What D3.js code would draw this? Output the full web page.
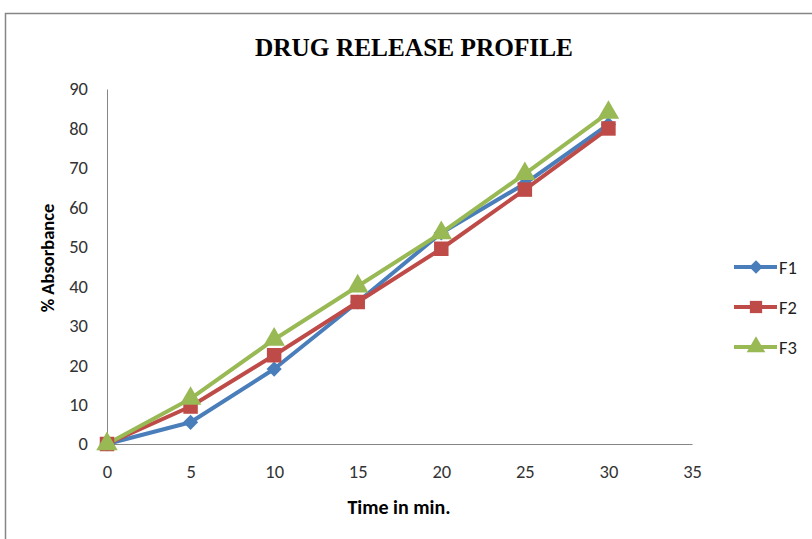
<!DOCTYPE html>
<html>
<head>
<meta charset="utf-8">
<script src="https://cdn.jsdelivr.net/npm/d3@7"></script>
<style>
  body { margin: 0; background: #fff; }
</style>
</head>
<body>
<svg id="drawing_region"></svg>
<script>
// data
const times = [0, 5, 10, 15, 20, 25, 30];
const f1 = [0, 5.5, 19, 36, 53.5, 66, 81];
const f2 = [0, 9.5, 22.5, 36, 49.5, 64.5, 80];
const f3 = [0, 11.5, 26.5, 40, 53.5, 68.5, 84];
const seriesNames = ["F1", "F2", "F3"];
const xTicks = [0, 5, 10, 15, 20, 25, 30, 35];
const yTicks = [0, 10, 20, 30, 40, 50, 60, 70, 80, 90];

const colors = ["#4A7EBB", "#BE4B48", "#98B954"];
const shapes = [d3.symbolSquare, d3.symbolSquare, d3.symbolTriangle];
const rotations = [45, 0, 0];
const sizes = [115, 210, 200];
const legendSizes = [90, 150, 150];

const width = 812, height = 539;
const svg = d3.select("#drawing_region")
    .attr("width", width)
    .attr("height", height);

// chart frame
svg.append("rect")
    .attr("x", 5.5).attr("y", 13.5)
    .attr("width", 820).attr("height", 540)
    .attr("fill", "none")
    .attr("stroke", "#868686")
    .attr("stroke-width", 1.5);

svg.append("text")
    .attr("x", 414).attr("y", 56)
    .attr("text-anchor", "middle")
    .attr("font-family", "Liberation Serif, Times New Roman, serif")
    .attr("font-weight", "bold")
    .attr("font-size", 26)
    .attr("textLength", 318)
    .attr("lengthAdjust", "spacingAndGlyphs")
    .attr("fill", "#000")
    .text("DRUG RELEASE PROFILE");

const x = d3.scaleLinear().domain([0, 35]).range([107, 692]);
const y = d3.scaleLinear().domain([0, 90]).range([444, 89]);

const labelFont = "Carlito, Lato, Open Sans, sans-serif";

// y axis
const yAxis = svg.append("g")
    .attr("transform", `translate(${x(0)},0)`)
    .call(d3.axisLeft(y).tickValues(yTicks).tickSize(0).tickPadding(19));
yAxis.select(".domain").attr("stroke", "#868686");
yAxis.selectAll("text")
    .attr("font-family", labelFont)
    .attr("font-size", 18.5)
    .attr("fill", "#333");

// x axis
const xAxis = svg.append("g")
    .attr("transform", `translate(0,${y(0)})`)
    .call(d3.axisBottom(x).tickValues(xTicks).tickSize(0).tickPadding(21));
xAxis.select(".domain").attr("stroke", "#868686");
xAxis.selectAll("text")
    .attr("font-family", labelFont)
    .attr("font-size", 18.5)
    .attr("fill", "#333");

// axis titles
svg.append("text")
    .attr("transform", "translate(54,258) rotate(-90)")
    .attr("text-anchor", "middle")
    .attr("font-family", labelFont)
    .attr("font-weight", "bold")
    .attr("font-size", 18.5)
    .text("% Absorbance");

svg.append("text")
    .attr("x", 399).attr("y", 514)
    .attr("text-anchor", "middle")
    .attr("font-family", labelFont)
    .attr("font-weight", "bold")
    .attr("font-size", 20)
    .text("Time in min.");

const series = [f1, f2, f3].map((vals, i) => ({
    name: seriesNames[i],
    points: times.map((t, j) => ({t: t, v: vals[j]}))
}));

const line = d3.line().x(d => x(d.t)).y(d => y(d.v));

series.forEach((s, i) => {
    svg.append("path")
        .datum(s.points)
        .attr("d", line)
        .attr("fill", "none")
        .attr("stroke", colors[i])
        .attr("stroke-width", 4)
        .attr("stroke-linejoin", "round");
});

series.forEach((s, i) => {
    svg.selectAll(".m" + i)
        .data(s.points)
        .enter()
        .append("path")
        .attr("class", "m" + i)
        .attr("d", d3.symbol().type(shapes[i]).size(sizes[i]))
        .attr("transform", d => `translate(${x(d.t)},${y(d.v)}) rotate(${rotations[i]})`)
        .attr("fill", colors[i]);
});

// legend
const legend = svg.append("g");
series.forEach((s, i) => {
    const ly = 267 + i * 40;
    legend.append("line")
        .attr("x1", 734).attr("x2", 777)
        .attr("y1", ly).attr("y2", ly)
        .attr("stroke", colors[i])
        .attr("stroke-width", 4);
    legend.append("path")
        .attr("d", d3.symbol().type(shapes[i]).size(legendSizes[i]))
        .attr("transform", `translate(756,${ly}) rotate(${rotations[i]})`)
        .attr("fill", colors[i]);
    legend.append("text")
        .attr("x", 779).attr("y", ly + 7)
        .attr("font-family", labelFont)
        .attr("font-size", 18.5)
        .attr("fill", "#222")
        .text(s.name);
});
</script>
</body>
</html>
